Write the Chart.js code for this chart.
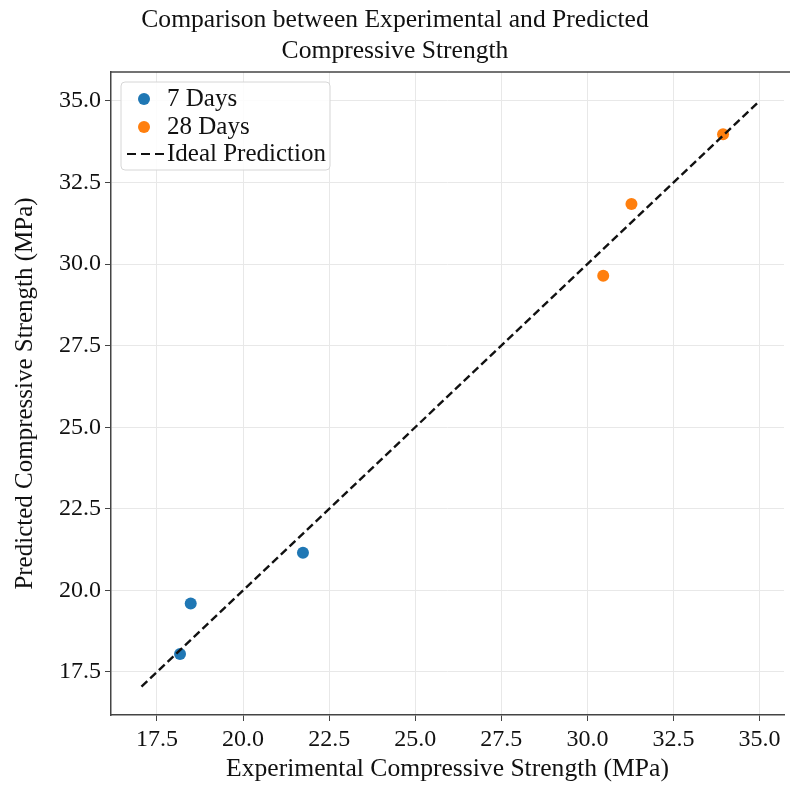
<!DOCTYPE html>
<html>
<head>
<meta charset="utf-8">
<script src="https://cdn.jsdelivr.net/npm/chart.js@4.4.1/dist/chart.umd.min.js"></script>
<style>
  html, body { margin: 0; padding: 0; background: #fff; }
  #wrap { width: 790px; height: 785px; }
</style>
</head>
<body>
<div id="wrap"><canvas id="myChart"></canvas></div>
<script>
// values
const exp7 = [18.17, 18.48, 21.74];
const pred7 = [18.05, 19.60, 21.15];
const exp28 = [30.46, 31.28, 33.94];
const pred28 = [29.64, 31.84, 33.98];
const idealX = [17.05, 35.0];
const tickValues = [17.5, 20.0, 22.5, 25.0, 27.5, 30.0, 32.5, 35.0];

const serif = "'Liberation Serif', 'Times New Roman', serif";
const blue = '#1f77b4';
const orange = '#ff7f0e';

function pairs(xs, ys) {
  return xs.map((v, i) => ({x: v, y: ys[i]}));
}

// top spine + legend box inside the plot
const framePlugin = {
  id: 'framePlugin',
  afterDatasetsDraw(chart) {
    const c = chart.ctx;
    const a = chart.chartArea;
    c.save();
    c.strokeStyle = '#444';
    c.lineWidth = 1.5;
    c.beginPath();
    c.moveTo(a.left, a.top);
    c.lineTo(chart.width, a.top);
    c.stroke();

    // legend
    c.beginPath();
    c.roundRect(121, 82, 209, 88, 4);
    c.fillStyle = 'rgba(255,255,255,0.85)';
    c.fill();
    c.strokeStyle = '#d6d6d6';
    c.lineWidth = 1;
    c.stroke();

    c.font = '25px ' + serif;
    c.textBaseline = 'middle';
    c.fillStyle = '#111';
    c.fillText('7 Days', 167, 99);
    c.fillText('28 Days', 167, 127);
    c.fillText('Ideal Prediction', 167, 154);

    c.fillStyle = blue;
    c.beginPath(); c.arc(144, 99, 6, 0, Math.PI * 2); c.fill();
    c.fillStyle = orange;
    c.beginPath(); c.arc(144, 127, 6, 0, Math.PI * 2); c.fill();

    c.strokeStyle = '#111';
    c.lineWidth = 2.2;
    c.setLineDash([9, 5]);
    c.beginPath(); c.moveTo(127, 154); c.lineTo(165, 154); c.stroke();
    c.restore();
  }
};

const ctx = document.getElementById('myChart');
const chart = new Chart(ctx, {
  type: 'scatter',
  data: {
    datasets: [
      {
        label: 'Ideal Prediction',
        type: 'line',
        data: pairs(idealX, idealX),
        borderColor: '#111',
        borderWidth: 2.4,
        borderDash: [8, 4],
        pointRadius: 0,
        fill: false,
        order: 0
      },
      {
        label: '7 Days',
        data: pairs(exp7, pred7),
        backgroundColor: blue,
        borderWidth: 0,
        pointRadius: 6,
        order: 1
      },
      {
        label: '28 Days',
        data: pairs(exp28, pred28),
        backgroundColor: orange,
        borderWidth: 0,
        pointRadius: 6,
        order: 1
      }
    ]
  },
  options: {
    responsive: true,
    maintainAspectRatio: false,
    animation: false,
    layout: { padding: 0 },
    plugins: {
      legend: { display: false },
      tooltip: { enabled: false },
      title: {
        display: true,
        text: ['Comparison between Experimental and Predicted', 'Compressive Strength'],
        color: '#111',
        font: { family: serif, size: 25.6, weight: 'normal', lineHeight: 1.2 },
        padding: { top: 5, bottom: 5.5 }
      }
    },
    scales: {
      x: {
        type: 'linear',
        min: 16.165,
        max: 35.71,
        afterBuildTicks: s => { s.ticks = tickValues.map(v => ({value: v})); },
        afterFit: s => { s.height = 70; },
        ticks: {
          color: '#111',
          padding: 4,
          font: { family: serif, size: 24 },
          callback: v => v.toFixed(1)
        },
        grid: { color: '#e8e8e8', tickColor: '#444', tickLength: 6 },
        border: { color: '#444', width: 1.5 },
        title: {
          display: true,
          text: 'Experimental Compressive Strength (MPa)',
          color: '#111',
          font: { family: serif, size: 25.6 },
          padding: { top: 0, bottom: 0 }
        }
      },
      y: {
        type: 'linear',
        min: 16.18,
        max: 35.89,
        afterBuildTicks: s => { s.ticks = tickValues.map(v => ({value: v})); },
        afterFit: s => { s.width = 111; },
        ticks: {
          color: '#111',
          padding: 4,
          font: { family: serif, size: 24 },
          callback: v => v.toFixed(1)
        },
        grid: { color: '#e8e8e8', tickColor: '#444', tickLength: 6 },
        border: { color: '#444', width: 1.5 },
        title: {
          display: true,
          text: 'Predicted Compressive Strength (MPa)',
          color: '#111',
          font: { family: serif, size: 25 },
          padding: { top: 10, bottom: 0 }
        }
      }
    }
  },
  plugins: [framePlugin]
});
</script>
</body>
</html>
